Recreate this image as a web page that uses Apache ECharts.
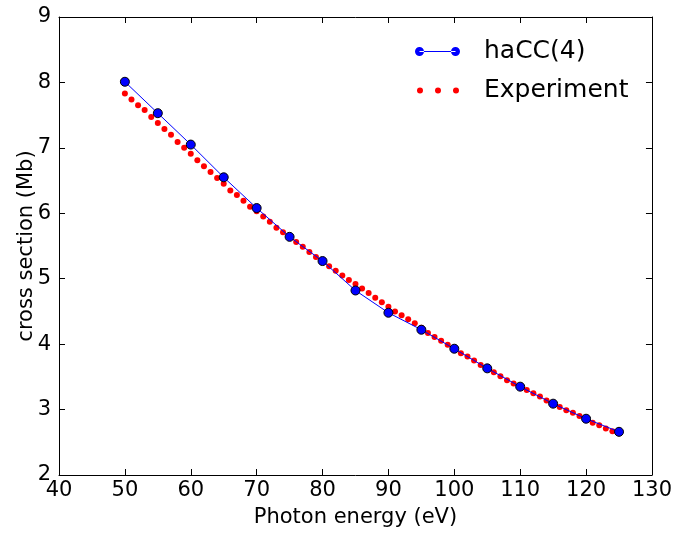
<!DOCTYPE html>
<html>
<head>
<meta charset="utf-8">
<script src="https://cdn.jsdelivr.net/npm/echarts@6/dist/echarts.min.js"></script>
<style>
  html, body { margin: 0; padding: 0; background: #fff; }
  #chart { width: 675px; height: 533px; }
</style>
</head>
<body>
<div id="chart"></div>
<script>
// haCC(4) calculation, every 5 eV
var haccEnergy = [50, 55, 60, 65, 70, 75, 80, 85, 90, 95, 100, 105, 110, 115, 120, 125];
var haccValues = [8.01, 7.53, 7.05, 6.55, 6.08, 5.64, 5.27, 4.82, 4.48, 4.22, 3.93, 3.63, 3.35, 3.09, 2.86, 2.66];

// experiment, every 1 eV from 50 to 125
var expEnergy = [];
for (var e = 50; e <= 125; e++) expEnergy.push(e);
var expValues = [
  7.83, 7.74, 7.65, 7.58, 7.47, 7.38, 7.29, 7.20, 7.09, 7.00,
  6.91, 6.81, 6.72, 6.63, 6.54, 6.45, 6.35, 6.28, 6.19, 6.10,
  6.03, 5.95, 5.87, 5.78, 5.71, 5.64, 5.56, 5.49, 5.41, 5.33,
  5.26, 5.19, 5.12, 5.05, 4.98, 4.92, 4.85, 4.78, 4.71, 4.64,
  4.57, 4.50, 4.44, 4.38, 4.32, 4.25, 4.17, 4.11, 4.05, 3.99,
  3.93, 3.86, 3.81, 3.75, 3.68, 3.63, 3.57, 3.51, 3.45, 3.40,
  3.35, 3.30, 3.25, 3.20, 3.14, 3.09, 3.04, 2.99, 2.95, 2.90,
  2.86, 2.80, 2.76, 2.71, 2.67, 2.64
];

var font = 'DejaVu Sans';

function pairs(xs, ys) {
  var out = [];
  for (var i = 0; i < xs.length; i++) out.push([xs[i], ys[i]]);
  return out;
}

var myChart = echarts.init(document.getElementById('chart'));

// legend icons, matplotlib style (two markers joined by a line / three dots)
var lineIcon = 'path://M0,5A4.5,4.5 0 1,0 9,5A4.5,4.5 0 1,0 0,5Z' +
  'M4.5,4.4L40.5,4.4L40.5,5.6L4.5,5.6Z' +
  'M36,5A4.5,4.5 0 1,0 45,5A4.5,4.5 0 1,0 36,5Z';
var dotIcon = 'path://M0,3A3,3 0 1,0 6,3A3,3 0 1,0 0,3Z' +
  'M18,3A3,3 0 1,0 24,3A3,3 0 1,0 18,3Z' +
  'M36,3A3,3 0 1,0 42,3A3,3 0 1,0 36,3Z';

var axisCommon = {
  type: 'value',
  axisLine: { show: true, onZero: false, lineStyle: { color: '#000', width: 1 } },
  axisTick: { show: true, inside: true, length: 6, lineStyle: { color: '#000' } },
  splitLine: { show: false }
};

var option = {
  backgroundColor: '#fff',
  animation: false,
  textStyle: { fontFamily: font },
  grid: { left: 59, right: 22, top: 17, bottom: 57, containLabel: false },
  legend: [{
    data: [{
      name: 'haCC(4)', icon: lineIcon,
      itemStyle: { color: '#0000ff', borderWidth: 0 }
    }],
    left: 410, top: 34,
    itemWidth: 45, itemHeight: 10, itemGap: 10,
    textStyle: { fontFamily: font, fontSize: 25, color: '#000', padding: [0, 0, 0, 19] }
  }, {
    data: [{ name: 'Experiment', icon: dotIcon, itemStyle: { color: '#ff0000', opacity: 1 } }],
    left: 412, top: 73,
    itemWidth: 42, itemHeight: 6, itemGap: 10,
    textStyle: { fontFamily: font, fontSize: 25, color: '#000', padding: [0, 0, 0, 20] }
  }],
  xAxis: [Object.assign({}, axisCommon, {
    min: 40, max: 130, interval: 10,
    name: 'Photon energy (eV)',
    nameLocation: 'middle', nameGap: 32,
    nameTextStyle: { fontFamily: font, fontSize: 21, color: '#000' },
    axisLabel: { fontFamily: font, fontSize: 21, color: '#000', margin: 5 }
  }), Object.assign({}, axisCommon, {
    position: 'top',
    min: 40, max: 130, interval: 10,
    axisLabel: { show: false }
  })],
  yAxis: [Object.assign({}, axisCommon, {
    min: 2, max: 9, interval: 1,
    name: 'cross section (Mb)',
    nameLocation: 'middle', nameGap: 26,
    nameMoveOverlap: false,
    nameTextStyle: { fontFamily: font, fontSize: 21, lineHeight: 12, color: '#000' },
    axisLabel: { fontFamily: font, fontSize: 21, color: '#000', margin: 8 }
  }), Object.assign({}, axisCommon, {
    position: 'right',
    min: 2, max: 9, interval: 1,
    axisLabel: { show: false }
  })],
  series: [{
    name: 'Experiment',
    type: 'scatter',
    data: pairs(expEnergy, expValues),
    symbol: 'circle',
    symbolSize: 6,
    itemStyle: { color: '#ff0000', opacity: 1 },
    z: 2
  }, {
    name: 'haCC(4)',
    type: 'line',
    data: pairs(haccEnergy, haccValues),
    symbol: 'circle',
    symbolSize: 9,
    showAllSymbol: true,
    lineStyle: { color: '#0000ff', width: 1 },
    itemStyle: { color: '#0000ff', borderColor: '#000', borderWidth: 1 },
    z: 3
  }]
};

myChart.setOption(option);
</script>
</body>
</html>
